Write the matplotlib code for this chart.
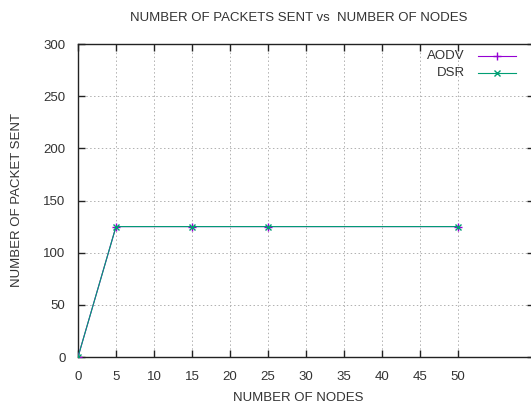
import matplotlib
matplotlib.use("Agg")
import matplotlib.pyplot as plt
from matplotlib.lines import Line2D

nodes = [0, 5, 15, 25, 50]
aodv = [0, 125, 125, 125, 125]
dsr = [0, 125, 125, 125, 125]
xticks = [0, 5, 10, 15, 20, 25, 30, 35, 40, 45, 50]
yticks = [0, 50, 100, 150, 200, 250, 300]

plt.rcParams['font.family'] = ['Liberation Sans', 'DejaVu Sans']
W, H = 531, 405
fig = plt.figure(figsize=(W / 100, H / 100), dpi=100)
left, right, top, bottom = 78, 534, 44, 357
ax = fig.add_axes([left / W, 1 - bottom / H, (right - left) / W, (bottom - top) / H])

ax.plot(nodes, aodv, color='#9400d3', marker='+', markersize=6, linewidth=0.8, zorder=3)
ax.plot(nodes, dsr, color='#009e73', marker='x', markersize=5, linewidth=0.8, zorder=4)

ax.set_xlim(0, 60)
ax.set_ylim(0, 300)
ax.set_xticks(xticks)
ax.set_yticks(yticks)
ax.tick_params(direction='in', length=5, width=1, labelsize=9.5, colors='#333333',
               top=True, right=True)
ax.tick_params(axis='x', pad=10, color='#222222')
ax.tick_params(axis='y', pad=9, color='#222222')
ax.grid(True, color='#b0b0b0', linestyle=(0, (1.5, 2.5)), linewidth=0.7)
for s in ax.spines.values():
    s.set_linewidth(1)
    s.set_color('#222222')

tc = '#333333'
fig.text(299 / W, 1 - 18 / H, 'NUMBER OF PACKETS SENT vs  NUMBER OF NODES',
         ha='center', va='center', fontsize=9.5, color=tc)
fig.text(298 / W, 1 - 398 / H, 'NUMBER OF NODES', ha='center', va='center',
         fontsize=9.5, color=tc)
fig.text(17 / W, 1 - 200 / H, 'NUMBER OF PACKET SENT', ha='center', va='center',
         rotation=90, fontsize=9.5, color=tc)

# legend (manual, gnuplot style)
labels = ['AODV', 'DSR']
colors = ['#9400d3', '#009e73']
markers = ['+', 'x']
for i, (lab, c, m) in enumerate(zip(labels, colors, markers)):
    y = 1 - (56 + 17 * i) / H
    fig.text(465 / W, y, lab, ha='right', va='center', fontsize=9.5, color=tc)
    fig.add_artist(Line2D([478 / W, 516 / W], [y, y], color=c, linewidth=0.8,
                          transform=fig.transFigure))
    fig.add_artist(Line2D([497 / W], [y], color=c, marker=m, markersize=6 if m == '+' else 5,
                          linestyle='none', transform=fig.transFigure))

fig.savefig('out.png', dpi=100)
